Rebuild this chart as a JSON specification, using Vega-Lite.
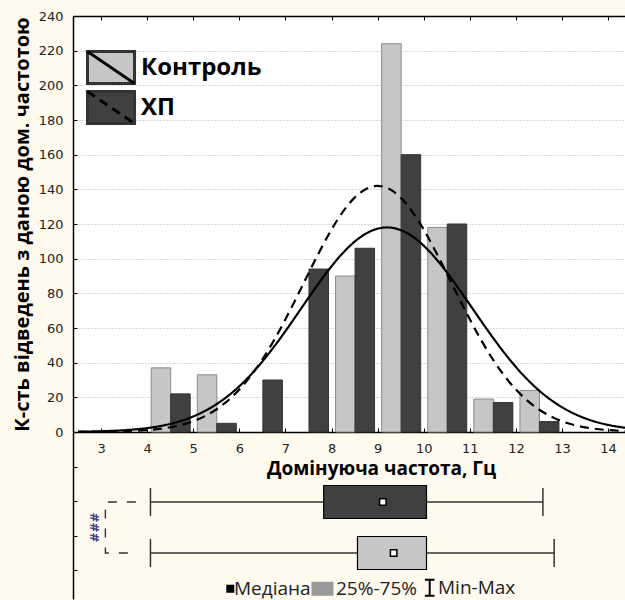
{
  "$schema": "https://vega.github.io/schema/vega-lite/v6.json",
  "background": "#fffaee",
  "padding": {"left": 12, "top": 10, "right": 0, "bottom": 0},
  "bounds": "flush",
  "spacing": 0,
  "config": {"view": {"stroke": null}, "axis": {"labelOverlap": false, "labelBound": false}, "axisY": {"labelOverlap": false}, "axisQuantitative": {"labelOverlap": false}},
  "resolve": {"legend": {"fill": "independent", "strokeDash": "independent", "color": "independent", "stroke": "independent", "shape": "independent"}},
  "datasets": {
    "hist": [
      {"mid": 4.5, "group": "Контроль", "count": 37},
      {"mid": 5.5, "group": "Контроль", "count": 33},
      {"mid": 8.5, "group": "Контроль", "count": 90},
      {"mid": 9.5, "group": "Контроль", "count": 224},
      {"mid": 10.5, "group": "Контроль", "count": 118},
      {"mid": 11.5, "group": "Контроль", "count": 19},
      {"mid": 12.5, "group": "Контроль", "count": 24},
      {"mid": 4.5, "group": "ХП", "count": 22},
      {"mid": 5.5, "group": "ХП", "count": 5},
      {"mid": 6.5, "group": "ХП", "count": 30},
      {"mid": 7.5, "group": "ХП", "count": 94},
      {"mid": 8.5, "group": "ХП", "count": 106},
      {"mid": 9.5, "group": "ХП", "count": 160},
      {"mid": 10.5, "group": "ХП", "count": 120},
      {"mid": 11.5, "group": "ХП", "count": 17},
      {"mid": 12.5, "group": "ХП", "count": 6}
    ],
    "curves": [
      {"x": 2.5, "group": "Контроль", "y": 0.17},
      {"x": 3, "group": "Контроль", "y": 0.43},
      {"x": 3.5, "group": "Контроль", "y": 1.02},
      {"x": 4, "group": "Контроль", "y": 2.27},
      {"x": 4.5, "group": "Контроль", "y": 4.68},
      {"x": 5, "group": "Контроль", "y": 8.97},
      {"x": 5.5, "group": "Контроль", "y": 16.0},
      {"x": 6, "group": "Контроль", "y": 26.4},
      {"x": 6.5, "group": "Контроль", "y": 40.7},
      {"x": 7, "group": "Контроль", "y": 58.2},
      {"x": 7.5, "group": "Контроль", "y": 77.4},
      {"x": 8, "group": "Контроль", "y": 95.6},
      {"x": 8.5, "group": "Контроль", "y": 109.8},
      {"x": 9, "group": "Контроль", "y": 117.3},
      {"x": 9.5, "group": "Контроль", "y": 116.5},
      {"x": 10, "group": "Контроль", "y": 107.5},
      {"x": 10.5, "group": "Контроль", "y": 92.2},
      {"x": 11, "group": "Контроль", "y": 73.5},
      {"x": 11.5, "group": "Контроль", "y": 54.5},
      {"x": 12, "group": "Контроль", "y": 37.5},
      {"x": 12.5, "group": "Контроль", "y": 24.0},
      {"x": 13, "group": "Контроль", "y": 14.3},
      {"x": 13.5, "group": "Контроль", "y": 7.9},
      {"x": 14, "group": "Контроль", "y": 4.1},
      {"x": 14.5, "group": "Контроль", "y": 1.95},
      {"x": 2.5, "group": "ХП", "y": 0.04},
      {"x": 3, "group": "ХП", "y": 0.13},
      {"x": 3.5, "group": "ХП", "y": 0.39},
      {"x": 4, "group": "ХП", "y": 1.07},
      {"x": 4.5, "group": "ХП", "y": 2.72},
      {"x": 5, "group": "ХП", "y": 6.24},
      {"x": 5.5, "group": "ХП", "y": 13.0},
      {"x": 6, "group": "ХП", "y": 24.5},
      {"x": 6.5, "group": "ХП", "y": 41.9},
      {"x": 7, "group": "ХП", "y": 65.0},
      {"x": 7.5, "group": "ХП", "y": 91.5},
      {"x": 8, "group": "ХП", "y": 116.8},
      {"x": 8.5, "group": "ХП", "y": 135.2},
      {"x": 9, "group": "ХП", "y": 142.0},
      {"x": 9.5, "group": "ХП", "y": 135.2},
      {"x": 10, "group": "ХП", "y": 116.8},
      {"x": 10.5, "group": "ХП", "y": 91.5},
      {"x": 11, "group": "ХП", "y": 65.0},
      {"x": 11.5, "group": "ХП", "y": 41.9},
      {"x": 12, "group": "ХП", "y": 24.5},
      {"x": 12.5, "group": "ХП", "y": 13.0},
      {"x": 13, "group": "ХП", "y": 6.2},
      {"x": 13.5, "group": "ХП", "y": 2.7},
      {"x": 14, "group": "ХП", "y": 1.1},
      {"x": 14.5, "group": "ХП", "y": 0.4}
    ],
    "boxes": [
      {"group": "ХП", "min": 4.15, "q1": 7.84, "median": 9.1, "q3": 10.03, "max": 12.51},
      {"group": "Контроль", "min": 4.15, "q1": 8.56, "median": 9.33, "q3": 10.03, "max": 12.75}
    ],
    "bracket": [
      {"k": 1, "x": 3.84, "group": "ХП"},
      {"k": 2, "x": 3.19, "group": "ХП"},
      {"k": 3, "x": 3.19, "group": "Контроль"},
      {"k": 4, "x": 3.84, "group": "Контроль"}
    ],
    "signif": [
      {"label": "###", "x": 2.95, "group": "ХП"}
    ],
    "legitems": [
      {"item": "Медіана"},
      {"item": "25%-75%"},
      {"item": "Min-Max"}
    ]
  },
  "vconcat": [
    {
      "width": 553,
      "height": 416,
      "view": {"fill": "white", "stroke": null},
      "resolve": {"axis": {"x": "independent"}},
      "layer": [
        {
          "data": {"name": "hist"},
          "transform": [{"filter": "datum.group === 'Контроль'"}],
          "mark": {"type": "bar", "width": 19.5, "xOffset": -9.25, "stroke": "#8a8a8a", "strokeWidth": 1},
          "encoding": {
            "x": {"field": "mid", "type": "quantitative",
              "scale": {"domain": [2.5, 14.28], "nice": false, "zero": false},
              "axis": {"orient": "bottom", "values": [3,4,5,6,7,8,9,10,11,12,13,14], "title": "Домінуюча частота, Гц", "labelOverlap": false,
                "tickSize": -4, "tickColor": "black", "labelPadding": 14, "labelFont": "DejaVu Sans", "labelFontSize": 13, "labelColor": "#222",
                "titleFont": "Open Sans", "titleFontSize": 19, "titleFontWeight": "bold", "titleColor": "black",
                "titleX": 308, "titleY": 42, "titleBaseline": "alphabetic", "grid": false, "domainColor": "black", "domainWidth": 1.5}},
            "y": {"field": "count", "type": "quantitative",
              "scale": {"domain": [0, 240], "nice": false},
              "axis": {"values": [0,20,40,60,80,100,120,140,160,180,200,220,240], "title": "К-сть відведень з даною дом. частотою", "labelOverlap": false, "labelSeparation": 0,
                "tickSize": -4, "tickColor": "black", "labelPadding": 14, "labelFont": "DejaVu Sans", "labelFontSize": 13, "labelColor": "#222",
                "titleFont": "Open Sans", "titleFontSize": 20, "titleFontWeight": "bold", "titleColor": "black", "titlePadding": 6,
                "grid": true, "gridDash": [1, 2], "gridColor": "#b0b0b0", "domainColor": "black", "domainWidth": 1.5}},
            "fill": {"field": "group", "type": "nominal",
              "scale": {"domain": ["Контроль", "ХП"], "range": ["#c6c6c6", "#404040"]},
              "legend": {"orient": "none", "legendX": 20.5, "legendY": 34, "title": null,
                "symbolType": "M-1.47,-1H1.47V1H-1.47Z", "symbolSize": 1024, "symbolStrokeColor": "transparent", "symbolStrokeWidth": 3, "symbolOpacity": 1,
                "labelFont": "Open Sans", "labelFontSize": 24, "labelFontWeight": "bold", "labelColor": "black", "labelOffset": 12.5, "rowPadding": -11}}
          }
        },
        {
          "data": {"name": "hist"},
          "transform": [{"filter": "datum.group === 'ХП'"}],
          "mark": {"type": "bar", "width": 19.5, "xOffset": 10.25, "stroke": "#333333", "strokeWidth": 1},
          "encoding": {
            "x": {"field": "mid", "type": "quantitative", "axis": null},
            "y": {"field": "count", "type": "quantitative",
              "axis": {"values": [0,20,40,60,80,100,120,140,160,180,200,220,240], "title": "К-сть відведень з даною дом. частотою", "labelOverlap": false, "labelSeparation": 0,
                "tickSize": -4, "tickColor": "black", "labelPadding": 14, "labelFont": "DejaVu Sans", "labelFontSize": 13, "labelColor": "#222",
                "titleFont": "Open Sans", "titleFontSize": 20, "titleFontWeight": "bold", "titleColor": "black", "titlePadding": 6,
                "grid": true, "gridDash": [1, 2], "gridColor": "#b0b0b0", "domainColor": "black", "domainWidth": 1.5}},
            "fill": {"field": "group", "type": "nominal"}
          }
        },
        {
          "data": {"name": "curves"},
          "mark": {"type": "line", "color": "black", "strokeWidth": 2.2, "interpolate": "natural", "clip": true},
          "encoding": {
            "x": {"field": "x", "type": "quantitative",
              "axis": {"orient": "top", "values": [3,4,5,6,7,8,9,10,11,12,13,14], "labels": false, "title": null,
                "tickSize": -4, "tickColor": "black", "grid": false, "domainColor": "black", "domainWidth": 1.5}},
            "y": {"field": "y", "type": "quantitative",
              "axis": {"values": [0,20,40,60,80,100,120,140,160,180,200,220,240], "title": "К-сть відведень з даною дом. частотою", "labelOverlap": false, "labelSeparation": 0,
                "tickSize": -4, "tickColor": "black", "labelPadding": 14, "labelFont": "DejaVu Sans", "labelFontSize": 13, "labelColor": "#222",
                "titleFont": "Open Sans", "titleFontSize": 20, "titleFontWeight": "bold", "titleColor": "black", "titlePadding": 6,
                "grid": true, "gridDash": [1, 2], "gridColor": "#b0b0b0", "domainColor": "black", "domainWidth": 1.5}},
            "strokeDash": {"field": "group", "type": "nominal",
              "scale": {"range": [[1, 0], [9, 6]]},
              "legend": {"orient": "none", "legendX": 20.5, "legendY": 34, "title": null,
                "symbolType": "M-1.47,-1L1.47,1", "symbolSize": 1024, "symbolStrokeColor": "black", "symbolStrokeWidth": 3, "symbolFillColor": "transparent",
                "labelFont": "Open Sans", "labelFontSize": 24, "labelFontWeight": "bold", "labelOpacity": 0, "labelOffset": 12.5, "rowPadding": -11}}
          }
        }
      ]
    },
    {
      "width": 553,
      "height": 167,
      "view": {"stroke": null},
      "layer": [
        {
          "data": {"name": "boxes"},
          "mark": {"type": "rule", "opacity": 0},
          "encoding": {
            "y": {"datum": 0, "type": "quantitative",
              "scale": {"domain": [0, 4.84], "reverse": true, "nice": false, "zero": false},
              "axis": {"orient": "left", "values": [0, 1, 2, 3, 4], "labels": false, "title": null, "tickSize": -4, "tickColor": "black",
                "grid": false, "domainColor": "black", "domainWidth": 1.5}}
          }
        },
        {
          "layer": [
            {
              "data": {"name": "boxes"},
              "mark": {"type": "rule", "color": "#333333", "strokeWidth": 1.3},
              "encoding": {
                "x": {"field": "min", "type": "quantitative", "scale": {"domain": [2.5, 14.28], "nice": false, "zero": false}, "axis": null},
                "x2": {"field": "max"},
                "y": {"field": "group", "type": "nominal",
                  "scale": {"domain": ["ХП", "Контроль"], "range": [44.5, 146.5], "paddingInner": 0, "paddingOuter": 0}, "axis": null}
              }
            },
            {
              "data": {"name": "boxes"},
              "mark": {"type": "tick", "thickness": 1.5, "size": 28, "color": "#333333", "opacity": 1},
              "encoding": {
                "x": {"field": "min", "type": "quantitative"},
                "y": {"field": "group", "type": "nominal"}
              }
            },
            {
              "data": {"name": "boxes"},
              "mark": {"type": "tick", "thickness": 1.5, "size": 28, "color": "#333333", "opacity": 1},
              "encoding": {
                "x": {"field": "max", "type": "quantitative"},
                "y": {"field": "group", "type": "nominal"}
              }
            },
            {
              "data": {"name": "boxes"},
              "mark": {"type": "bar", "height": 33, "stroke": "black", "strokeWidth": 1.2},
              "encoding": {
                "x": {"field": "q1", "type": "quantitative"},
                "x2": {"field": "q3"},
                "y": {"field": "group", "type": "nominal"},
                "fill": {"field": "group", "type": "nominal", "legend": null}
              }
            },
            {
              "data": {"name": "boxes"},
              "mark": {"type": "point", "shape": "square", "filled": true, "fill": "white", "stroke": "black", "strokeWidth": 1.5, "size": 42, "opacity": 1},
              "encoding": {
                "x": {"field": "median", "type": "quantitative"},
                "y": {"field": "group", "type": "nominal"}
              }
            },
            {
              "data": {"name": "bracket"},
              "mark": {"type": "line", "color": "#333333", "strokeWidth": 1.4, "strokeDash": [9, 10]},
              "encoding": {
                "x": {"field": "x", "type": "quantitative"},
                "y": {"field": "group", "type": "nominal"},
                "order": {"field": "k", "type": "quantitative"}
              }
            },
            {
              "data": {"name": "signif"},
              "mark": {"type": "text", "angle": 90, "font": "DejaVu Sans", "fontSize": 12, "fontWeight": "bold", "color": "#3b3b8f", "yOffset": 25.5, "align": "center", "baseline": "middle"},
              "encoding": {
                "x": {"field": "x", "type": "quantitative"},
                "y": {"field": "group", "type": "nominal"},
                "text": {"field": "label"}
              }
            },
            {
              "data": {"name": "legitems"},
              "mark": {"type": "point", "filled": true, "opacity": 0},
              "encoding": {
                "color": {"field": "item", "type": "nominal",
                  "scale": {"domain": ["Медіана", "25%-75%", "Min-Max"], "range": ["black", "#999999", "black"]},
                  "legend": {"orient": "none", "legendX": 140, "legendY": 146, "direction": "horizontal", "title": null,
                    "symbolSize": 256, "symbolStrokeWidth": 2, "symbolOpacity": 1,
                    "labelFont": "Open Sans", "labelFontSize": 19, "labelColor": "#222", "labelOffset": 2, "columnPadding": -3}},
                "stroke": {"field": "item", "type": "nominal",
                  "scale": {"domain": ["Медіана", "25%-75%", "Min-Max"], "range": ["black", "#999999", "black"]},
                  "legend": {"orient": "none", "legendX": 140, "legendY": 146, "direction": "horizontal", "title": null,
                    "symbolSize": 256, "symbolStrokeWidth": 2, "symbolOpacity": 1,
                    "labelFont": "Open Sans", "labelFontSize": 19, "labelColor": "#222", "labelOffset": 2, "columnPadding": -3}},
                "shape": {"field": "item", "type": "nominal",
                  "scale": {"domain": ["Медіана", "25%-75%", "Min-Max"],
                    "range": ["M0.6,-0.375H1.35V0.375H0.6Z", "M-1.5,-0.75H1V0.75H-1.5Z", "M-0.2,-1H1M0.4,-1V1M-0.2,1H1"]},
                  "legend": {"orient": "none", "legendX": 140, "legendY": 146, "direction": "horizontal", "title": null,
                    "symbolSize": 256, "symbolStrokeWidth": 2, "symbolOpacity": 1,
                    "labelFont": "Open Sans", "labelFontSize": 19, "labelColor": "#222", "labelOffset": 2, "columnPadding": -3}}
              }
            }
          ]
        }
      ],
      "resolve": {"scale": {"y": "independent"}, "axis": {"y": "independent"}}
    }
  ]
}
